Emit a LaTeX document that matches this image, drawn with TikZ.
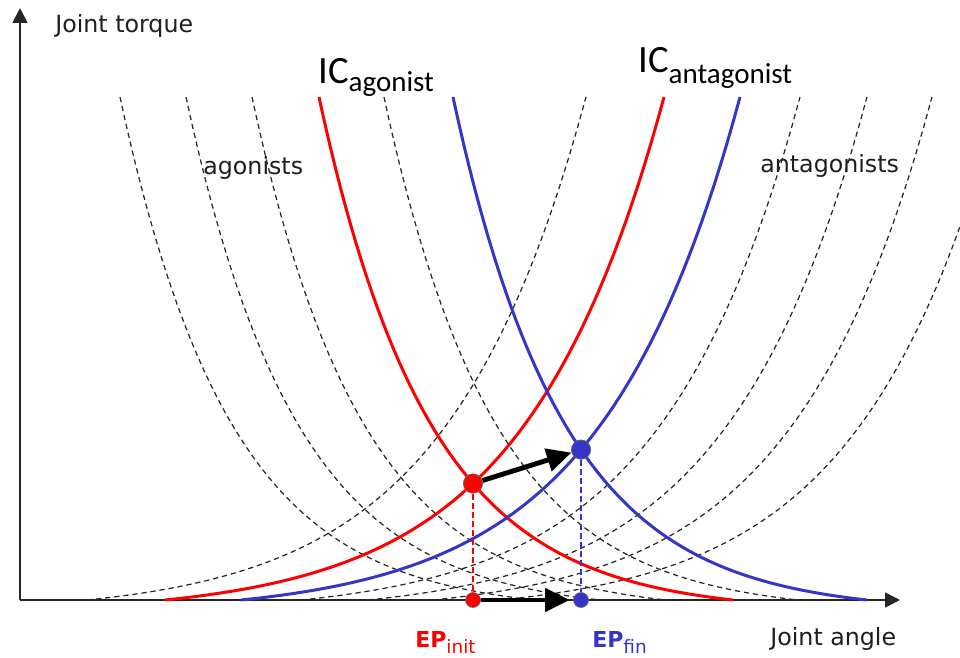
\documentclass[tikz,border=0pt]{standalone}
\usepackage{fontspec}
\setmainfont{DejaVu Sans}
\newfontfamily\calibri{Carlito}
\usetikzlibrary{arrows.meta,positioning,intersections}
\definecolor{icred}{HTML}{FF0000}
\definecolor{icblue}{HTML}{3535C8}
\definecolor{labelgray}{HTML}{1E1E1E}

\begin{document}
\begin{tikzpicture}[
  x=0.02cm, y=0.02cm,
  axisline/.style={line width=1pt, black!85, -{Triangle[length=8.5pt,width=8.5pt]}},
  icdash/.style={dash pattern=on 3pt off 2.2pt, line width=0.7pt, black!85},
  iccurve/.style={line width=1.7pt, #1},
  eqpoint/.style={circle, draw=black!60, line width=0.4pt, fill=#1, inner sep=0pt, minimum size=11pt},
  axpoint/.style={circle, draw=black!60, line width=0.4pt, fill=#1, inner sep=0pt, minimum size=8.5pt},
  dropline/.style={dash pattern=on 3.4pt off 1.8pt, line width=0.85pt, draw=#1},
  movearrow/.style={line width=2.8pt, black, -{Triangle[length=14pt,width=13pt]}},
  lbl/.style={font=\fontsize{13.5}{16}\selectfont, text=labelgray, inner sep=0pt, anchor=base west},
  eplbl/.style={font=\fontsize{12.5}{15}\selectfont\bfseries, text=#1, inner sep=0pt, anchor=base west},
  iclbl/.style={font=\calibri\fontsize{22}{26}\selectfont, inner sep=0pt, anchor=base west}
]
  \useasboundingbox (0,-57) rectangle (960,600);

  % Axes
  \coordinate (orig) at (20,0);
  \coordinate (ytop) at (20,592);
  \coordinate (xend) at (900,0);
  \draw[axisline] (orig) -- (ytop);
  \draw[axisline] (orig) -- (xend);

  % Agonist invariant characteristics
  \foreach \t in {120,186,252,384} {
    \draw[icdash] plot[domain=\t:\t+414, samples=60] (\x, {12.4*(exp(0.009*(\t+414-\x))-1)});
  }
  % Antagonist invariant characteristics
  \foreach \s in {87,301,368,433} {
    \draw[icdash] plot[domain=\s:\s+499, samples=60] (\x, {14.22*(exp(0.0072*(\x-\s))-1)});
  }
  \draw[icdash] plot[domain=501:960, samples=60] (\x, {14.22*(exp(0.0072*(\x-501))-1)});

  % Initial and final ICs
  \draw[iccurve=icred, name path=agred] plot[domain=319:733, samples=80] (\x, {12.4*(exp(0.009*(733-\x))-1)});
  \draw[iccurve=icred, name path=antred] plot[domain=165:664, samples=80] (\x, {14.22*(exp(0.0072*(\x-165))-1)});
  \draw[iccurve=icblue, name path=agblue] plot[domain=453:867, samples=80] (\x, {12.4*(exp(0.009*(867-\x))-1)});
  \draw[iccurve=icblue, name path=antblue] plot[domain=241:740, samples=80] (\x, {14.22*(exp(0.0072*(\x-241))-1)});

  % Equilibrium points
  \path[name intersections={of=agred and antred, by=ri}];
  \path[name intersections={of=agblue and antblue, by=bi}];
  \node[eqpoint=icred] (epinit) at (ri) {};
  \node[eqpoint=icblue] (epfin) at (bi) {};
  \node[axpoint=icred] (epinitax) at (epinit |- orig) {};
  \node[axpoint=icblue] (epfinax) at (epfin |- orig) {};

  \draw[dropline=icred] (epinit) -- (epinitax);
  \draw[dropline=icblue] (epfin) -- (epfinax);
  \draw[movearrow] (epinit) -- (epfin);
  \draw[movearrow, shorten >=2pt] (epinitax) -- (epfinax);

  % Labels
  \node[lbl] (torquelbl) at (55,567) {Joint torque};
  \node[lbl] (anglelbl) at (770,-45) {Joint angle};
  \node[lbl] (aglbl) at (203,426) {agonists};
  \node[lbl] (antlbl) at (760,428) {antagonists};
  \node[iclbl] (icaglbl) at (318,517) {IC\raisebox{-5pt}{\fontsize{16.5}{18}\selectfont agonist}};
  \node[iclbl] (icantlbl) at (638,527) {IC\raisebox{-6pt}{\fontsize{16.5}{18}\selectfont antagonist}};
  \node[eplbl=icred] (epinitlbl) at (415,-47) {EP\raisebox{-3.5pt}{\fontsize{10.5}{12}\selectfont\mdseries init}};
  \node[eplbl=icblue] (epfinlbl) at (592,-47) {EP\raisebox{-3.5pt}{\fontsize{10.5}{12}\selectfont\mdseries fin}};
\end{tikzpicture}
\end{document}
